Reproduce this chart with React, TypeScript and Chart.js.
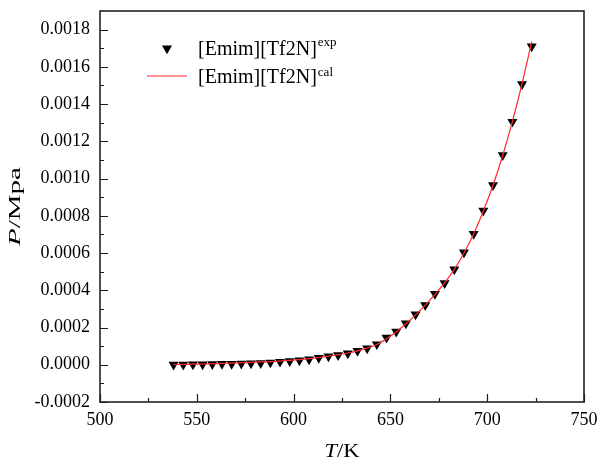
import { useEffect, useRef } from "react";
import { Chart, registerables } from "chart.js";

Chart.register(...registerables);

// ---------- data ----------
const temperatures = [
  538, 543, 548, 553, 558, 563, 568, 573, 578, 583, 588, 593, 598, 603, 608, 613, 618, 623, 628,
  633, 638, 643, 648, 653, 658, 663, 668, 673, 678, 683, 688, 693, 698, 703, 708, 713, 718, 723,
];
const pressureExp = [
  0.0, 0.000001, 0.000002, 0.000002, 0.000003, 0.000004, 0.000005, 0.000006, 0.000007, 0.000008,
  0.000012, 0.000016, 0.000019, 0.000023, 0.000029, 0.000037, 0.000045, 0.000052, 0.000061,
  0.000074, 0.000088, 0.00011, 0.000146, 0.000178, 0.000222, 0.00027, 0.00032, 0.00038, 0.000438,
  0.000512, 0.000603, 0.000703, 0.000828, 0.000965, 0.001126, 0.001305, 0.001507, 0.00171,
];
const pressureCal = [
  0.000001, 0.000002, 0.000003, 0.000004, 0.000005, 0.000007, 0.000009, 0.000011, 0.000013,
  0.000015, 0.000017, 0.00002, 0.000024, 0.000028, 0.000033, 0.000039, 0.000046, 0.000054,
  0.000063, 0.000075, 0.00009, 0.000109, 0.00014, 0.000176, 0.00022, 0.000268, 0.00032, 0.000378,
  0.00044, 0.000512, 0.0006, 0.000702, 0.000826, 0.000964, 0.001124, 0.001306, 0.00151, 0.001735,
];
const xTickValues = [500, 550, 600, 650, 700, 750];
const xMinorValues = [525, 575, 625, 675, 725];
const yTickValues = [-0.0002, 0, 0.0002, 0.0004, 0.0006, 0.0008, 0.001, 0.0012, 0.0014, 0.0016, 0.0018];
const yMinorValues = [-0.0001, 0.0001, 0.0003, 0.0005, 0.0007, 0.0009, 0.0011, 0.0013, 0.0015, 0.0017];
const seriesName = "[Emim][Tf2N]";
const expSuffix = "exp";
const calSuffix = "cal";
const xTitleItalic = "T";
const xTitleRest = "/K";
const yTitleItalic = "P";
const yTitleRest = "/Mpa";

const SERIF = '"Liberation Serif", "Times New Roman", serif';
const RED = "#ff2a2a";
const MARKER_R = 5.8;

function triangleDown(ctx: CanvasRenderingContext2D, cx: number, cy: number, r: number) {
  const s = Math.sin(Math.PI / 3) * r;
  ctx.beginPath();
  ctx.moveTo(cx, cy + r);
  ctx.lineTo(cx - s, cy - r / 2);
  ctx.lineTo(cx + s, cy - r / 2);
  ctx.closePath();
  ctx.fill();
}

function drawTitle(
  ctx: CanvasRenderingContext2D,
  italic: string,
  rest: string,
  size: number,
  targetLen: number
) {
  ctx.font = `italic ${size}px ${SERIF}`;
  const wi = ctx.measureText(italic).width;
  ctx.font = `${size}px ${SERIF}`;
  const wr = ctx.measureText(rest).width;
  const total = wi + wr;
  ctx.scale(targetLen / total, 1);
  ctx.textBaseline = "alphabetic";
  ctx.textAlign = "left";
  ctx.font = `italic ${size}px ${SERIF}`;
  ctx.fillText(italic, -total / 2, 0);
  ctx.font = `${size}px ${SERIF}`;
  ctx.fillText(rest, -total / 2 + wi, 0);
}

const decorPlugin = {
  id: "decor",
  afterDatasetsDraw(chart: any) {
    const { ctx, chartArea: a, scales } = chart;
    const xs = scales.x;
    const ys = scales.y;
    ctx.save();
    // ticks (inward, bottom & left)
    ctx.strokeStyle = "#1a1a1a";
    ctx.lineWidth = 1.2;
    ctx.beginPath();
    xTickValues.forEach((v) => {
      const p = Math.round(xs.getPixelForValue(v)) + 0.5;
      ctx.moveTo(p, a.bottom);
      ctx.lineTo(p, a.bottom - 8);
    });
    xMinorValues.forEach((v) => {
      const p = Math.round(xs.getPixelForValue(v)) + 0.5;
      ctx.moveTo(p, a.bottom);
      ctx.lineTo(p, a.bottom - 4);
    });
    yTickValues.forEach((v) => {
      const p = Math.round(ys.getPixelForValue(v)) + 0.5;
      ctx.moveTo(a.left, p);
      ctx.lineTo(a.left + 8, p);
    });
    yMinorValues.forEach((v) => {
      const p = Math.round(ys.getPixelForValue(v)) + 0.5;
      ctx.moveTo(a.left, p);
      ctx.lineTo(a.left + 4, p);
    });
    ctx.stroke();
    // frame
    ctx.lineWidth = 1.6;
    ctx.strokeStyle = "#222";
    ctx.strokeRect(a.left, a.top, a.right - a.left, a.bottom - a.top);

    // legend
    ctx.fillStyle = "#000";
    triangleDown(ctx, a.left + 67, a.top + 37.5, MARKER_R);
    ctx.strokeStyle = RED;
    ctx.lineWidth = 1.2;
    ctx.beginPath();
    ctx.moveTo(a.left + 47, a.top + 65);
    ctx.lineTo(a.left + 87, a.top + 65);
    ctx.stroke();

    ctx.fillStyle = "#000";
    ctx.textAlign = "left";
    ctx.textBaseline = "alphabetic";
    ctx.font = `20px ${SERIF}`;
    const tx = a.left + 98;
    ctx.fillText(seriesName, tx, a.top + 44);
    const w1 = ctx.measureText(seriesName).width;
    ctx.fillText(seriesName, tx, a.top + 72.3);
    ctx.font = `13px ${SERIF}`;
    ctx.fillText(expSuffix, tx + w1 + 1, a.top + 35);
    ctx.fillText(calSuffix, tx + w1 + 1, a.top + 65);

    // x title
    ctx.save();
    ctx.translate((a.left + a.right) / 2, 456.7);
    drawTitle(ctx, xTitleItalic, xTitleRest, 18, 35);
    ctx.restore();

    // y title
    ctx.save();
    ctx.translate(20, (a.top + a.bottom) / 2);
    ctx.rotate(-Math.PI / 2);
    drawTitle(ctx, yTitleItalic, yTitleRest, 16, 79);
    ctx.restore();

    ctx.restore();
  },
};

export default function App() {
  const ref = useRef<HTMLCanvasElement | null>(null);

  useEffect(() => {
    const canvas = ref.current;
    if (!canvas) return;
    const chart = new Chart(canvas, {
      type: "scatter",
      data: {
        datasets: [
          {
            label: seriesName + expSuffix,
            data: temperatures.map((t, i) => ({ x: t, y: pressureExp[i] })),
            showLine: false,
            pointStyle: "triangle",
            rotation: 180,
            pointRadius: MARKER_R,
            pointBackgroundColor: "#000",
            pointBorderColor: "#000",
            pointBorderWidth: 0,
            order: 1,
          },
          {
            label: seriesName + calSuffix,
            data: temperatures.map((t, i) => ({ x: t, y: pressureCal[i] })),
            showLine: true,
            borderColor: RED,
            borderWidth: 1.2,
            pointRadius: 0,
            tension: 0.3,
            order: 0,
          },
        ],
      },
      options: {
        responsive: false,
        animation: false,
        layout: { padding: { top: 11, right: 14, left: 0, bottom: 0 } },
        plugins: { legend: { display: false }, tooltip: { enabled: false } },
        scales: {
          x: {
            type: "linear",
            min: 500,
            max: 750,
            grid: { display: false, drawTicks: false },
            border: { display: false },
            afterBuildTicks: (s: any) => {
              s.ticks = xTickValues.map((v) => ({ value: v }));
            },
            afterFit: (s: any) => {
              s.height = 59;
              s.paddingLeft = 0;
              s.paddingRight = 0;
            },
            ticks: {
              padding: 7,
              color: "#000",
              font: { family: SERIF, size: 18 },
              maxRotation: 0,
              callback: (v: any) => String(v),
            },
          },
          y: {
            type: "linear",
            min: -0.0002,
            max: 0.0019,
            grid: { display: false, drawTicks: false },
            border: { display: false },
            afterBuildTicks: (s: any) => {
              s.ticks = yTickValues.map((v) => ({ value: v }));
            },
            afterFit: (s: any) => {
              s.width = 100;
              s.paddingTop = 0;
              s.paddingBottom = 0;
            },
            ticks: {
              padding: 10,
              color: "#000",
              font: { family: SERIF, size: 18 },
              callback: (v: any) => Number(v).toFixed(4),
            },
          },
        },
      },
      plugins: [decorPlugin],
    });
    return () => chart.destroy();
  }, []);

  return (
    <div style={{ position: "absolute", left: 0, top: 0, width: 598, height: 461, background: "#fff" }}>
      <canvas ref={ref} width={598} height={461} style={{ display: "block" }} />
    </div>
  );
}
